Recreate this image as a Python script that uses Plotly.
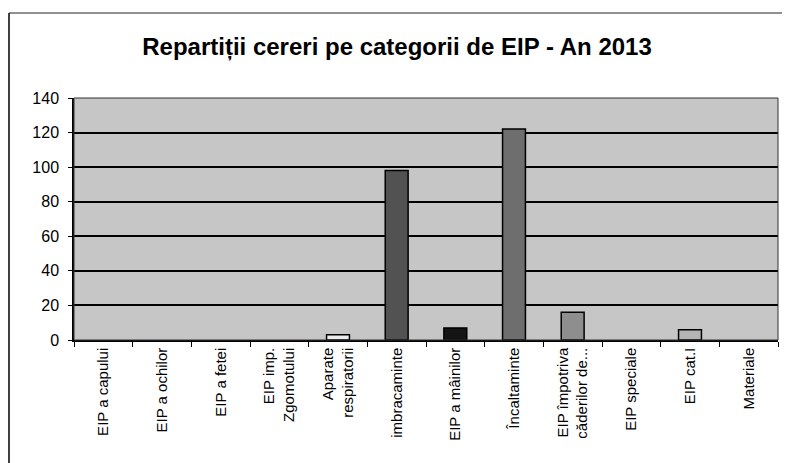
import plotly.graph_objects as go

categories = [
    "EIP a capului",
    "EIP a ochilor",
    "EIP a fetei",
    "EIP imp.<br>Zgomotului",
    "Aparate<br>respiratorii",
    "imbracaminte",
    "EIP a mâinilor",
    "Încaltaminte",
    "EIP împotriva<br>căderilor de...",
    "EIP speciale",
    "EIP cat.I",
    "Materiale",
]
values = [0, 0, 0, 0, 3, 98, 7, 122, 16, 0, 6, 0]
bar_colors = ["#999999", "#999999", "#999999", "#999999", "#ececec", "#525252",
              "#141414", "#6e6e6e", "#8e8e8e", "#999999", "#b4b4b4", "#999999"]
y_ticks = [0, 20, 40, 60, 80, 100, 120, 140]

W, H = 782, 455
plot_l, plot_r, plot_t, plot_b = 66, 770, 90, 332
ph = plot_b - plot_t
pw = plot_r - plot_l

fig = go.Figure()
fig.add_trace(go.Bar(
    x=categories,
    y=values,
    width=0.39,
    marker=dict(color=bar_colors,
                line=dict(color="#000000", width=[1.5 if v > 0 else 0 for v in values])),
    showlegend=False,
    hoverinfo="x+y",
))

top_y = (plot_b - 5) / ph
left_x = (1 - plot_l) / pw

fig.update_layout(
    width=W,
    height=H,
    margin=dict(l=plot_l, r=W - plot_r, t=plot_t, b=H - plot_b, autoexpand=False),
    paper_bgcolor="#ffffff",
    plot_bgcolor="#c6c6c6",
    font=dict(family="Liberation Sans, Arial, sans-serif", color="#000000"),
    title=dict(
        text="<b>Repartiții cereri pe categorii de EIP - An 2013</b>",
        x=(397 - 8) / W, xanchor="center",
        y=1 - 39 / H, yanchor="middle",
        font=dict(size=24, family="Liberation Sans, Arial, sans-serif", color="#000000"),
    ),
    xaxis=dict(
        type="category",
        tickangle=-90,
        ticks="outside",
        tickson="boundaries",
        ticklen=5,
        tickcolor="#000000",
        showline=True,
        linecolor="#000000",
        linewidth=1.5,
        showgrid=False,
        tickfont=dict(size=15),
        automargin=False,
    ),
    yaxis=dict(
        range=[0, 140],
        tickvals=y_ticks,
        ticks="outside",
        ticklen=4,
        tickcolor="#000000",
        ticklabelstandoff=6,
        showline=True,
        linecolor="#000000",
        linewidth=1.5,
        showgrid=True,
        gridcolor="#000000",
        gridwidth=1.5,
        zeroline=False,
        tickfont=dict(size=16),
        automargin=False,
    ),
    shapes=[
        dict(type="rect", xref="paper", yref="paper", x0=0, x1=1, y0=0, y1=1,
             line=dict(color="#333333", width=1), layer="above"),
        dict(type="line", xref="paper", yref="paper", x0=left_x, x1=left_x,
             y0=-0.6, y1=top_y, line=dict(color="#000000", width=1.5)),
        dict(type="line", xref="paper", yref="paper", x0=left_x, x1=(W - 1 - plot_l) / pw,
             y0=top_y, y1=top_y, line=dict(color="#222222", width=1.2)),
    ],
)

fig.write_html("out.html")
